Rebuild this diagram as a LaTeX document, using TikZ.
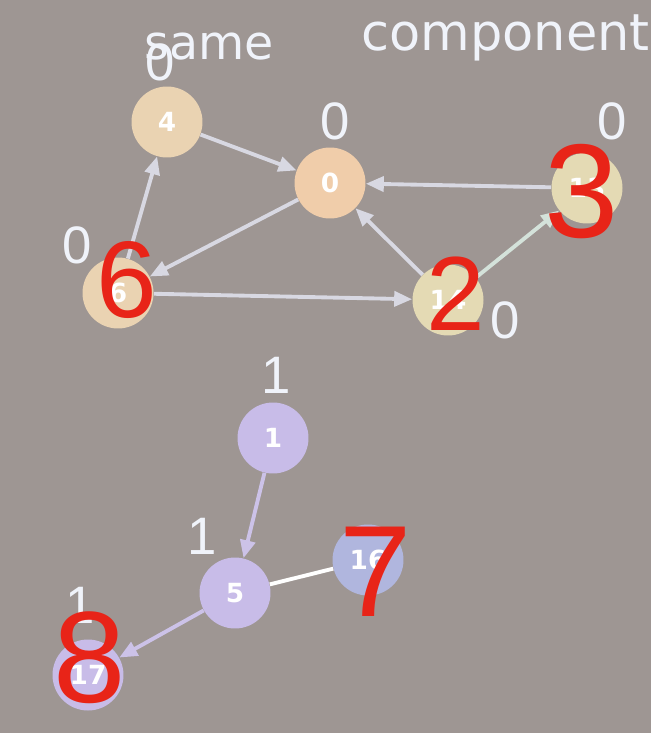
\documentclass[tikz,border=0pt]{standalone}
\usepackage{fontspec}
\setmainfont{DejaVu Sans}
\newfontfamily\thinfont{Liberation Sans}
\usetikzlibrary{arrows.meta}

\definecolor{slidebg}{RGB}{158,150,147}
\definecolor{chalk}{RGB}{240,243,250}
\definecolor{peach}{RGB}{234,211,178}
\definecolor{peachdeep}{RGB}{240,205,170}
\definecolor{cream}{RGB}{228,218,180}
\definecolor{lilac}{RGB}{200,188,232}
\definecolor{periwinkle}{RGB}{176,182,222}
\definecolor{edgegray}{RGB}{216,216,226}
\definecolor{mint}{RGB}{212,226,218}
\definecolor{lilacedge}{RGB}{204,194,232}
\definecolor{redink}{RGB}{232,36,24}

\begin{document}
\begin{tikzpicture}[x=0.02cm, y=-0.02cm,
    vertex/.style={circle, minimum size=1.42cm, inner sep=0pt, text=white,
      font=\fontsize{15}{15}\selectfont\bfseries},
    score/.style={text=chalk, inner sep=0pt, font=\thinfont\fontsize{30}{30}\selectfont},
    heading/.style={text=chalk, inner sep=0pt, anchor=base west, font=\fontsize{#1}{#1}\selectfont},
    link/.style={-{Triangle[length=3.6mm, width=3mm]}, line width=2.2pt, draw=edgegray},
    scrawl/.style={text=redink, inner sep=0pt, font=\thinfont\fontsize{#1}{#1}\selectfont}]

  \fill[slidebg] (0,0) rectangle (651,733);
  \useasboundingbox (0,0) rectangle (651,733);

  % heading
  \node[heading=27] (same) at (144,60) {same};
  \node[heading=29] (comp) at (361,51) {component};

  % first component
  \node[vertex, fill=peach] (n4) at (167,122) {4};
  \node[vertex, fill=peachdeep] (n0) at (330,183) {0};
  \node[vertex, fill=cream] (n13) at (587,188) {13};
  \node[vertex, fill=peach] (n6) at (118,293) {6};
  \node[vertex, fill=cream] (n14) at (448,300) {14};

  % second component
  \node[vertex, fill=lilac] (n1) at (273,438) {1};
  \node[vertex, fill=lilac] (n5) at (235,593) {5};
  \node[vertex, fill=periwinkle] (n16) at (368,560) {16};
  \node[vertex, fill=lilac] (n17) at (88,675) {17};

  \draw[link] (n4) -- (n0);
  \draw[link] (n6) -- (n4);
  \draw[link] (n0) -- (n6);
  \draw[link] (n6) -- (n14);
  \draw[link] (n14) -- (n0);
  \draw[link, draw=mint] (n14) -- (n13);
  \draw[link] (n13) -- (n0);
  \draw[link, draw=lilacedge] (n1) -- (n5);
  \draw[link, draw=lilacedge] (n5) -- (n17);
  \draw[line width=2.2pt, white] (n5) -- (n16);

  % component ids
  \node[score] (s4) at (160,62) {0};
  \node[score] (s0) at (335,121) {0};
  \node[score] (s13) at (612,121) {0};
  \node[score] (s6) at (77,245) {0};
  \node[score] (s14) at (505,320) {0};
  \node[score] (s1) at (276,375) {1};
  \node[score] (s5) at (202,536) {1};
  \node[score] (s17) at (80,605) {1};

  % red pen
  \node[scrawl=62] (r6) at (127,280) {6};
  \node[scrawl=60] (r2) at (456,294) {2};
  \node[scrawl=76] (r3) at (582,192) {3};
  \node[scrawl=74] (r7) at (376,572) {7};
  \node[scrawl=74] (r8) at (90,658) {8};
\end{tikzpicture}
\end{document}
